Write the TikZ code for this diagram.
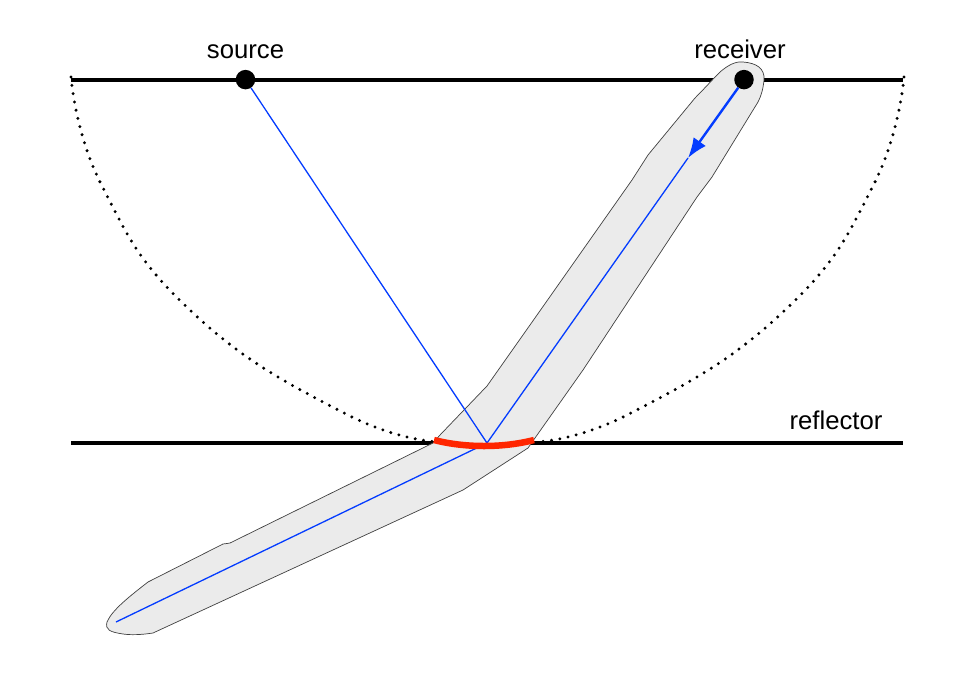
\documentclass[tikz,border=0pt]{standalone}
\usepackage{fontspec}
\setmainfont{Liberation Sans}
\usetikzlibrary{arrows, arrows.meta, calc}
\definecolor{raylblue}{RGB}{4,60,255}
\definecolor{zonered}{RGB}{255,38,0}
\definecolor{zonegray}{RGB}{235,235,235}

\begin{document}
\begin{tikzpicture}[x=1pt, y=-1pt, >=latex, font=\fontsize{25.7}{30}\selectfont]%
    \tikzstyle{pnt} = [ circle, fill = black, minimum size = 19.5pt, inner sep = 0pt]
    \tikzstyle{lbl} = [ inner sep = 0pt, text = black]
    \tikzstyle{geo} = [ line width = 3.9pt, black]
    \tikzstyle{ell} = [ line width = 3.3pt, line cap = round, dash pattern = on 0pt off 8.4pt, black]
    \tikzstyle{ray} = [ line width = 1.3pt, raylblue]
    \useasboundingbox (0,0) rectangle (972,675);
    %% Interfaces
    \coordinate (top_l) at (71,79.6);
    \coordinate (top_r) at (903,79.6);
    \coordinate (ref_l) at (71,442.6);
    \coordinate (ref_r) at (903,442.6);
    \draw[geo] (top_l) -- (top_r);
    \draw[geo] (ref_l) -- (ref_r);
    %% Equal travel time curve
    \draw[ell] plot[smooth, tension=0.8] coordinates {(71,77) (102,186) (192,312) (344,413) (440,442)};
    \draw[ell] plot[smooth, tension=0.8] coordinates {(904,77) (873,186) (783,312) (631,413) (535,442)};
    %% Fresnel volume
    \draw[draw = black!75, line width = 0.7pt, fill = zonegray]
        (743,62) .. controls (756,63) and (765,68) .. (764,80)
        .. controls (763,90) and (761,96) .. (758,102)
        -- (712,177) -- (697,197) -- (583,370) -- (535,438) -- (528,448) -- (463,490)
        -- (153,633) .. controls (140,635) and (130,635) .. (123,634)
        .. controls (110,632) and (105,630) .. (107,622)
        .. controls (112,610) and (130,596) .. (148,582)
        -- (223,544) .. controls (226,543) and (228,544) .. (230,543)
        -- (433,443) -- (440,435) -- (487,386) -- (530,325) -- (632,180) -- (648,155) -- (695,98)
        .. controls (705,88) and (712,80) .. (720,72)
        .. controls (727,66) and (735,61) .. (743,62) -- cycle;
    %% Rays
    \node [pnt] (source) at (245.5,79.6) {};
    \node [pnt] (receiver) at (744,79.6) {};
    \coordinate (bounce) at (487,443);
    \coordinate (tail) at (116,622);
    \coordinate (mid) at (688,158);
    \draw[ray] (source) -- (bounce);
    \draw[ray] (bounce) -- (mid);
    \draw[ray] (bounce) -- (tail);
    \draw[ray, line width = 2.4pt, -{Latex[length=20pt,width=15pt]}] (receiver) -- (mid);
    %% Reflection zone
    \coordinate (arc_l) at (434,440);
    \coordinate (arc_r) at (534,440);
    \draw[zonered, line width = 6.5pt] (arc_l) .. controls (465,448) and (503,448) .. (arc_r);
    %% Labels
    \node [lbl, node distance = 28pt] (source_txt) [above of = source] {source};
    \node [lbl, node distance = 30pt] (receiver_txt) [above of = receiver, xshift = -4pt] {receiver};
    \node [lbl] (reflector_txt) at (836,420) {reflector};
\end{tikzpicture}
\end{document}
